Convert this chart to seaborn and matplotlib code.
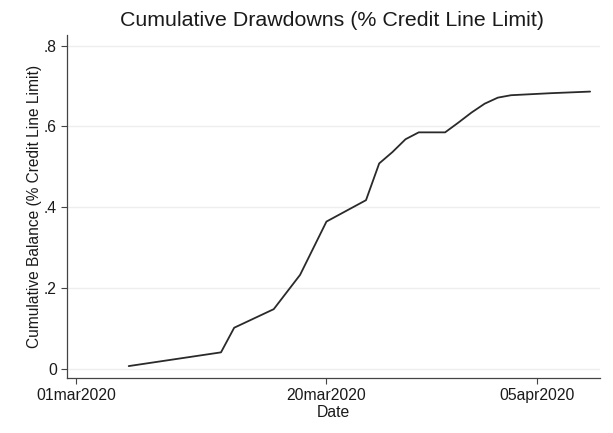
import matplotlib
matplotlib.use("Agg")
import matplotlib.pyplot as plt
import numpy as np
import pandas as pd
import seaborn as sns

# Cumulative drawn balance as a share of the credit line limit
dates = [
    "2020-03-05", "2020-03-12", "2020-03-13", "2020-03-16", "2020-03-18",
    "2020-03-19", "2020-03-20", "2020-03-23", "2020-03-24", "2020-03-25",
    "2020-03-26", "2020-03-27", "2020-03-29", "2020-03-30", "2020-03-31",
    "2020-04-01", "2020-04-02", "2020-04-03", "2020-04-06", "2020-04-09",
]
balance = [
    0.006, 0.040, 0.101, 0.147, 0.232,
    0.298, 0.364, 0.417, 0.508, 0.536,
    0.568, 0.585, 0.585, 0.609, 0.634,
    0.656, 0.671, 0.677, 0.682, 0.686,
]

x_tick_dates = ["2020-03-01", "2020-03-20", "2020-04-05"]
x_tick_labels = ["01mar2020", "20mar2020", "05apr2020"]
y_ticks = [0.0, 0.2, 0.4, 0.6, 0.8]
y_tick_labels = ["0", ".2", ".4", ".6", ".8"]

df = pd.DataFrame({"date": pd.to_datetime(dates), "balance": balance})

sns.set_theme(style="white")
plt.rcParams["font.family"] = ["Liberation Sans", "DejaVu Sans"]

fig = plt.figure(figsize=(6.13, 4.33), dpi=100)
ax = fig.add_axes([0.1088, 0.1277, 0.979 - 0.1088, 0.919 - 0.1277])

ax.yaxis.grid(True, color="#eeeeee", linewidth=1.0)
ax.set_axisbelow(True)

sns.lineplot(data=df, x="date", y="balance", ax=ax, color="#2a2a2a",
             linewidth=1.3)

start = pd.Timestamp("2020-03-01")
ax.set_xlim(start - pd.Timedelta(days=0.705), start + pd.Timedelta(days=39.76))
ax.set_ylim(-0.0228, 0.826)

ax.set_xticks(pd.to_datetime(x_tick_dates))
ax.set_xticklabels(x_tick_labels, fontsize=11.3, color="#1a1a1a")
ax.set_yticks(y_ticks)
ax.set_yticklabels(y_tick_labels, fontsize=11.3, color="#1a1a1a")

ax.tick_params(axis="both", which="major", length=4, width=0.8,
               color="#444444", direction="out", bottom=True, left=True)
ax.tick_params(axis="x", pad=3.5)
ax.tick_params(axis="y", pad=3)

for side in ["top", "right"]:
    ax.spines[side].set_visible(False)
for side in ["left", "bottom"]:
    ax.spines[side].set_color("#444444")
    ax.spines[side].set_linewidth(0.9)

ax.set_xlabel("Date", fontsize=11.3, color="#1a1a1a", labelpad=1)
ax.set_ylabel("Cumulative Balance (% Credit Line Limit)", fontsize=11.2,
              color="#1a1a1a", labelpad=1.5)
fig.suptitle("Cumulative Drawdowns (% Credit Line Limit)", fontsize=15.4,
             color="#1a1a1a", x=0.542, y=0.975)

fig.savefig("out.png", dpi=100, facecolor="white")
